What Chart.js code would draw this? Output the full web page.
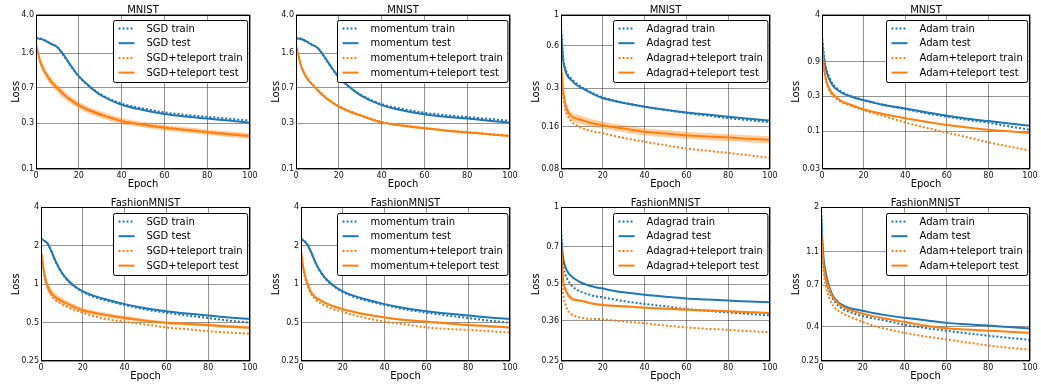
<!DOCTYPE html>
<html>
<head>
<meta charset="utf-8">
<script src="https://cdn.jsdelivr.net/npm/chart.js@4/dist/chart.umd.min.js"></script>
<style>
  body { margin: 0; background: #fff; }
  #wrap { position: relative; width: 1041px; height: 387px; overflow: hidden; }
  #wrap canvas { position: absolute; }
</style>
</head>
<body>
<div id="wrap"></div>
<script>
const epochs = [0, 1, 2, 3, 5, 7, 10, 13, 16, 20, 25, 30, 40, 50, 60, 70, 80, 90, 100];

// MNIST, SGD
const sgdMnistTrain   = [2.29, 2.28, 2.26, 2.23, 2.12, 2.0, 1.84, 1.50, 1.19, 0.91, 0.72, 0.60, 0.478, 0.425, 0.387, 0.364, 0.348, 0.333, 0.318];
const sgdMnistTest    = [2.28, 2.27, 2.25, 2.22, 2.11, 1.99, 1.84, 1.52, 1.21, 0.92, 0.72, 0.59, 0.465, 0.41, 0.372, 0.35, 0.335, 0.318, 0.303];
const sgdMnistTpTrain = [1.96, 1.59, 1.31, 1.14, 0.95, 0.82, 0.70, 0.60, 0.53, 0.462, 0.41, 0.372, 0.317, 0.29, 0.271, 0.256, 0.243, 0.232, 0.222];
const sgdMnistTpTest  = [1.94, 1.58, 1.30, 1.13, 0.94, 0.81, 0.69, 0.595, 0.525, 0.458, 0.405, 0.368, 0.314, 0.288, 0.268, 0.254, 0.241, 0.23, 0.22];
const sgdMnistSpread  = [0.03, 0.07, 0.09, 0.10, 0.10, 0.10, 0.10, 0.10, 0.09, 0.09, 0.08, 0.08, 0.08, 0.07, 0.07, 0.07, 0.07, 0.07, 0.07];

// MNIST, momentum
const momMnistTrain   = [2.29, 2.28, 2.26, 2.22, 2.11, 1.98, 1.82, 1.48, 1.17, 0.89, 0.71, 0.595, 0.472, 0.42, 0.384, 0.362, 0.346, 0.331, 0.316];
const momMnistTest    = [2.28, 2.27, 2.25, 2.21, 2.10, 1.97, 1.82, 1.50, 1.19, 0.90, 0.71, 0.585, 0.46, 0.405, 0.37, 0.348, 0.334, 0.317, 0.302];
const momMnistTpTrain = [1.96, 1.57, 1.27, 1.09, 0.90, 0.79, 0.67, 0.58, 0.51, 0.45, 0.40, 0.364, 0.308, 0.285, 0.267, 0.252, 0.242, 0.231, 0.222];
const momMnistTpTest  = [1.94, 1.55, 1.25, 1.07, 0.88, 0.78, 0.66, 0.57, 0.505, 0.445, 0.395, 0.36, 0.305, 0.282, 0.265, 0.25, 0.24, 0.229, 0.22];
const momMnistSpread  = [0.02, 0.04, 0.04, 0.04, 0.04, 0.03, 0.03, 0.03, 0.03, 0.03, 0.03, 0.02, 0.02, 0.02, 0.02, 0.02, 0.02, 0.02, 0.02];

// MNIST, Adagrad
const adagradMnistTrain   = [0.82, 0.50, 0.42, 0.38, 0.35, 0.327, 0.305, 0.288, 0.273, 0.258, 0.247, 0.237, 0.222, 0.21, 0.2, 0.192, 0.184, 0.178, 0.172];
const adagradMnistTest    = [0.78, 0.476, 0.405, 0.37, 0.343, 0.32, 0.30, 0.285, 0.27, 0.255, 0.245, 0.236, 0.222, 0.211, 0.202, 0.195, 0.188, 0.182, 0.177];
const adagradMnistTpTrain = [0.44, 0.27, 0.215, 0.195, 0.174, 0.165, 0.156, 0.151, 0.147, 0.144, 0.138, 0.133, 0.125, 0.118, 0.112, 0.108, 0.104, 0.1, 0.096];
const adagradMnistTpTest  = [0.45, 0.29, 0.235, 0.21, 0.19, 0.183, 0.178, 0.172, 0.168, 0.164, 0.159, 0.155, 0.147, 0.143, 0.139, 0.136, 0.134, 0.131, 0.129];
const adagradMnistSpread  = [0.03, 0.06, 0.07, 0.07, 0.07, 0.07, 0.07, 0.07, 0.06, 0.06, 0.06, 0.06, 0.06, 0.06, 0.06, 0.06, 0.06, 0.06, 0.06];

// MNIST, Adam
const adamMnistTrain   = [2.1, 1.05, 0.74, 0.60, 0.45, 0.39, 0.34, 0.31, 0.29, 0.268, 0.246, 0.228, 0.2, 0.176, 0.158, 0.142, 0.13, 0.116, 0.104];
const adamMnistTest    = [1.8, 0.95, 0.69, 0.56, 0.43, 0.375, 0.33, 0.305, 0.285, 0.265, 0.245, 0.228, 0.205, 0.182, 0.162, 0.148, 0.137, 0.127, 0.118];
const adamMnistTpTrain = [1.5, 0.72, 0.48, 0.39, 0.31, 0.275, 0.245, 0.228, 0.212, 0.195, 0.176, 0.16, 0.131, 0.111, 0.095, 0.082, 0.07, 0.061, 0.054];
const adamMnistTpTest  = [1.45, 0.73, 0.5, 0.41, 0.33, 0.29, 0.253, 0.235, 0.218, 0.2, 0.183, 0.17, 0.15, 0.134, 0.121, 0.112, 0.104, 0.099, 0.094];

// FashionMNIST, SGD
const sgdFashionTrain   = [2.27, 2.23, 2.17, 2.10, 1.80, 1.50, 1.22, 1.06, 0.96, 0.87, 0.80, 0.755, 0.69, 0.635, 0.60, 0.57, 0.545, 0.52, 0.50];
const sgdFashionTest    = [2.26, 2.22, 2.16, 2.10, 1.81, 1.51, 1.23, 1.07, 0.97, 0.88, 0.815, 0.77, 0.70, 0.65, 0.615, 0.59, 0.57, 0.55, 0.535];
const sgdFashionTpTrain = [1.82, 1.36, 1.09, 0.96, 0.82, 0.755, 0.70, 0.66, 0.63, 0.60, 0.565, 0.54, 0.51, 0.485, 0.46, 0.445, 0.43, 0.42, 0.41];
const sgdFashionTpTest  = [1.81, 1.38, 1.11, 0.98, 0.85, 0.79, 0.74, 0.70, 0.665, 0.627, 0.60, 0.58, 0.546, 0.52, 0.50, 0.49, 0.48, 0.468, 0.457];
const sgdFashionSpread  = [0.04, 0.08, 0.09, 0.09, 0.08, 0.07, 0.06, 0.05, 0.05, 0.04, 0.04, 0.04, 0.04, 0.03, 0.03, 0.03, 0.03, 0.03, 0.03];

// FashionMNIST, momentum
const momFashionTrain   = [2.27, 2.22, 2.15, 2.05, 1.75, 1.46, 1.20, 1.05, 0.955, 0.87, 0.80, 0.755, 0.69, 0.635, 0.60, 0.57, 0.545, 0.52, 0.50];
const momFashionTest    = [2.26, 2.21, 2.14, 2.05, 1.76, 1.47, 1.21, 1.06, 0.965, 0.88, 0.815, 0.77, 0.70, 0.65, 0.615, 0.59, 0.57, 0.55, 0.535];
const momFashionTpTrain = [1.82, 1.36, 1.12, 0.99, 0.83, 0.76, 0.70, 0.665, 0.635, 0.61, 0.575, 0.55, 0.51, 0.485, 0.46, 0.448, 0.44, 0.43, 0.42];
const momFashionTpTest  = [1.81, 1.38, 1.15, 1.02, 0.857, 0.79, 0.74, 0.70, 0.67, 0.64, 0.61, 0.585, 0.55, 0.525, 0.51, 0.495, 0.48, 0.47, 0.46];
const momFashionSpread  = [0.02, 0.03, 0.03, 0.03, 0.03, 0.02, 0.02, 0.02, 0.02, 0.02, 0.02, 0.02, 0.02, 0.02, 0.02, 0.02, 0.02, 0.02, 0.02];

// FashionMNIST, Adagrad
const adagradFashionTrain   = [0.84, 0.60, 0.548, 0.524, 0.495, 0.48, 0.466, 0.457, 0.45, 0.444, 0.437, 0.43, 0.419, 0.41, 0.40, 0.394, 0.388, 0.383, 0.378];
const adagradFashionTest    = [0.77, 0.634, 0.588, 0.562, 0.537, 0.522, 0.506, 0.496, 0.488, 0.481, 0.472, 0.465, 0.455, 0.447, 0.44, 0.436, 0.432, 0.428, 0.425];
const adagradFashionTpTrain = [0.72, 0.462, 0.422, 0.40, 0.382, 0.375, 0.37, 0.367, 0.366, 0.365, 0.361, 0.358, 0.352, 0.345, 0.339, 0.335, 0.332, 0.328, 0.325];
const adagradFashionTpTest  = [0.73, 0.52, 0.482, 0.46, 0.44, 0.434, 0.431, 0.424, 0.419, 0.415, 0.412, 0.41, 0.405, 0.401, 0.398, 0.395, 0.392, 0.389, 0.386];
const adagradFashionSpread  = [0.01, 0.02, 0.02, 0.02, 0.02, 0.01, 0.01, 0.01, 0.01, 0.01, 0.01, 0.01, 0.01, 0.01, 0.01, 0.01, 0.01, 0.01, 0.01];

// FashionMNIST, Adam
const adamFashionTrain   = [2.0, 1.0, 0.80, 0.70, 0.60, 0.55, 0.51, 0.49, 0.475, 0.46, 0.447, 0.435, 0.41, 0.392, 0.378, 0.365, 0.353, 0.343, 0.334];
const adamFashionTest    = [1.85, 1.08, 0.862, 0.753, 0.63, 0.575, 0.535, 0.515, 0.505, 0.495, 0.48, 0.468, 0.45, 0.435, 0.42, 0.412, 0.405, 0.397, 0.389];
const adamFashionTpTrain = [1.4, 0.90, 0.72, 0.64, 0.55, 0.51, 0.48, 0.46, 0.445, 0.425, 0.405, 0.39, 0.367, 0.35, 0.336, 0.322, 0.31, 0.30, 0.293];
const adamFashionTpTest  = [1.5, 0.965, 0.80, 0.72, 0.615, 0.565, 0.526, 0.505, 0.49, 0.475, 0.46, 0.447, 0.425, 0.405, 0.39, 0.384, 0.378, 0.372, 0.367];

// y tick values and their printed labels
const mnistSgdTicks = [0.1, 0.3, 0.7, 1.6, 4.0];
const mnistSgdTickLabels = ['0.1', '0.3', '0.7', '1.6', '4.0'];
const mnistAdagradTicks = [0.08, 0.16, 0.3, 0.6, 1];
const mnistAdagradTickLabels = ['0.08', '0.16', '0.3', '0.6', '1'];
const mnistAdamTicks = [0.03, 0.1, 0.3, 0.9, 4];
const mnistAdamTickLabels = ['0.03', '0.1', '0.3', '0.9', '4'];
const fashionSgdTicks = [0.25, 0.5, 1, 2, 4];
const fashionSgdTickLabels = ['0.25', '0.5', '1', '2', '4'];
const fashionAdagradTicks = [0.25, 0.36, 0.5, 0.7, 1];
const fashionAdagradTickLabels = ['0.25', '0.36', '0.5', '0.7', '1'];
const fashionAdamTicks = [0.25, 0.4, 0.7, 1.1, 2];
const fashionAdamTickLabels = ['0.25', '0.4', '0.7', '1.1', '2'];
const xTicks = [0, 20, 40, 60, 80, 100];

const panels = [
  { title: 'MNIST', opt: 'SGD', train: sgdMnistTrain, test: sgdMnistTest, tpTrain: sgdMnistTpTrain, tpTest: sgdMnistTpTest, spread: sgdMnistSpread, ticks: mnistSgdTicks, labels: mnistSgdTickLabels, col: 0, row: 0, axisW: 36 },
  { title: 'MNIST', opt: 'momentum', train: momMnistTrain, test: momMnistTest, tpTrain: momMnistTpTrain, tpTest: momMnistTpTest, spread: momMnistSpread, ticks: mnistSgdTicks, labels: mnistSgdTickLabels, col: 1, row: 0, axisW: 36 },
  { title: 'MNIST', opt: 'Adagrad', train: adagradMnistTrain, test: adagradMnistTest, tpTrain: adagradMnistTpTrain, tpTest: adagradMnistTpTest, spread: adagradMnistSpread, ticks: mnistAdagradTicks, labels: mnistAdagradTickLabels, col: 2, row: 0, axisW: 41 },
  { title: 'MNIST', opt: 'Adam', train: adamMnistTrain, test: adamMnistTest, tpTrain: adamMnistTpTrain, tpTest: adamMnistTpTest, spread: null, ticks: mnistAdamTicks, labels: mnistAdamTickLabels, col: 3, row: 0, axisW: 42 },
  { title: 'FashionMNIST', opt: 'SGD', train: sgdFashionTrain, test: sgdFashionTest, tpTrain: sgdFashionTpTrain, tpTest: sgdFashionTpTest, spread: sgdFashionSpread, ticks: fashionSgdTicks, labels: fashionSgdTickLabels, col: 0, row: 1, axisW: 41 },
  { title: 'FashionMNIST', opt: 'momentum', train: momFashionTrain, test: momFashionTest, tpTrain: momFashionTpTrain, tpTest: momFashionTpTest, spread: momFashionSpread, ticks: fashionSgdTicks, labels: fashionSgdTickLabels, col: 1, row: 1, axisW: 41 },
  { title: 'FashionMNIST', opt: 'Adagrad', train: adagradFashionTrain, test: adagradFashionTest, tpTrain: adagradFashionTpTrain, tpTest: adagradFashionTpTest, spread: adagradFashionSpread, ticks: fashionAdagradTicks, labels: fashionAdagradTickLabels, col: 2, row: 1, axisW: 41 },
  { title: 'FashionMNIST', opt: 'Adam', train: adamFashionTrain, test: adamFashionTest, tpTrain: adamFashionTpTrain, tpTest: adamFashionTpTest, spread: null, ticks: fashionAdamTicks, labels: fashionAdamTickLabels, col: 3, row: 1, axisW: 41 }
];

const BLUE = '#1f77b4';
const ORANGE = '#ff7f0e';
const BAND = 'rgba(255,127,14,0.38)';
const FONT = '"DejaVu Sans", Verdana, sans-serif';
const DOT = [2, 2];

const rowTop = [0, 193], rowH = [193, 194];
const padTop = [14.7, 14.3], xAxisH = [24, 25.7];

const pts = arr => epochs.map((e, i) => ({ x: e, y: arr[i] }));

// titles, spines, axis labels and the boxed legend, drawn matplotlib-like
const decor = {
  id: 'decor',
  afterDraw(chart, args, o) {
    const { ctx, chartArea: a } = chart;
    ctx.save();
    ctx.fillStyle = '#000';
    ctx.font = '10px ' + FONT;
    ctx.textAlign = 'center';
    ctx.textBaseline = 'alphabetic';
    ctx.fillText(o.title, (a.left + a.right) / 2, a.top - 1.5);
    ctx.fillText('Epoch', (a.left + a.right) / 2, a.bottom + 18);
    ctx.save();
    ctx.translate(18.5, (a.top + a.bottom) / 2);
    ctx.rotate(-Math.PI / 2);
    ctx.fillText('Loss', 0, 0);
    ctx.restore();

    ctx.strokeStyle = '#000';
    ctx.lineWidth = 1;
    ctx.strokeRect(Math.round(a.left) + 0.5, Math.round(a.top) + 0.5,
      Math.round(a.right) - Math.round(a.left) - 1, Math.round(a.bottom) - Math.round(a.top) - 1);

    // legend
    const names = [o.opt + ' train', o.opt + ' test', o.opt + '+teleport train', o.opt + '+teleport test'];
    const looks = [[BLUE, DOT], [BLUE, []], [ORANGE, DOT], [ORANGE, []]];
    ctx.textAlign = 'left';
    ctx.textBaseline = 'middle';
    const tw = Math.max(...names.map(n => ctx.measureText(n).width));
    const bw = 5 + 16 + 12 + tw + 5, bh = 62;
    const bx = Math.round(a.right - 3 - bw) + 0.5, by = Math.round(a.top + 5.3) + 0.5;
    ctx.beginPath();
    ctx.roundRect(bx, by, bw, bh, 2);
    ctx.fillStyle = '#fff';
    ctx.fill();
    ctx.stroke();
    names.forEach((n, i) => {
      const y = by + 8 + i * 14.7;
      ctx.strokeStyle = looks[i][0];
      ctx.lineWidth = 2;
      ctx.setLineDash(looks[i][1]);
      ctx.beginPath();
      ctx.moveTo(bx + 5, y);
      ctx.lineTo(bx + 21, y);
      ctx.stroke();
      ctx.setLineDash([]);
      ctx.fillStyle = '#000';
      ctx.fillText(n, bx + 33, y + 0.5);
    });
    ctx.restore();
  }
};

const wrap = document.getElementById('wrap');

panels.forEach(p => {
  const cv = document.createElement('canvas');
  const w = p.col === 3 ? 261 : 260;
  const h = rowH[p.row];
  cv.width = w; cv.height = h;
  cv.style.left = (p.col * 260) + 'px';
  cv.style.top = rowTop[p.row] + 'px';
  cv.style.width = w + 'px'; cv.style.height = h + 'px';
  wrap.appendChild(cv);

  const line = (data, color, dash, order) => ({
    data: pts(data), borderColor: color, borderWidth: 2, borderDash: dash,
    pointRadius: 0, fill: false, cubicInterpolationMode: 'monotone', order
  });

  const datasets = [line(p.tpTest, ORANGE, [], 0)];
  if (p.spread) {
    const hi = p.tpTest.map((v, i) => v * (1 + p.spread[i]));
    const lo = p.tpTest.map((v, i) => v / (1 + p.spread[i]));
    datasets.push({ data: pts(hi), borderWidth: 0, pointRadius: 0, fill: '+1', backgroundColor: BAND, cubicInterpolationMode: 'monotone', order: 1 });
    datasets.push({ data: pts(lo), borderWidth: 0, pointRadius: 0, fill: false, cubicInterpolationMode: 'monotone', order: 1 });
  }
  datasets.push(line(p.tpTrain, ORANGE, DOT, 2));
  datasets.push(line(p.test, BLUE, [], 3));
  datasets.push(line(p.train, BLUE, DOT, 4));

  new Chart(cv, {
    type: 'line',
    data: { datasets },
    plugins: [decor],
    options: {
      responsive: false,
      animation: false,
      devicePixelRatio: 1,
      layout: { padding: { top: padTop[p.row], right: w - 250, left: 0, bottom: 0 } },
      plugins: {
        legend: { display: false },
        tooltip: { enabled: false },
        decor: { title: p.title, opt: p.opt }
      },
      scales: {
        x: {
          type: 'linear', min: 0, max: 100,
          afterBuildTicks: s => { s.ticks = xTicks.map(v => ({ value: v })); },
          afterFit: s => { s.height = xAxisH[p.row]; },
          grid: { color: 'rgba(0,0,0,0.42)', lineWidth: 1, drawTicks: false },
          border: { display: false },
          ticks: { padding: 2, color: '#111', font: { family: FONT, size: 8 }, maxRotation: 0, autoSkip: false }
        },
        y: {
          type: 'logarithmic',
          min: p.ticks[0], max: p.ticks[p.ticks.length - 1],
          afterBuildTicks: s => { s.ticks = p.ticks.map(v => ({ value: v })); },
          afterFit: s => { s.width = p.axisW; },
          grid: { color: 'rgba(0,0,0,0.42)', lineWidth: 1, drawTicks: false },
          border: { display: false },
          ticks: {
            padding: 2, color: '#111', font: { family: FONT, size: 8 }, autoSkip: false,
            callback: (v, i) => p.labels[i]
          }
        }
      }
    }
  });
});
</script>
</body>
</html>
